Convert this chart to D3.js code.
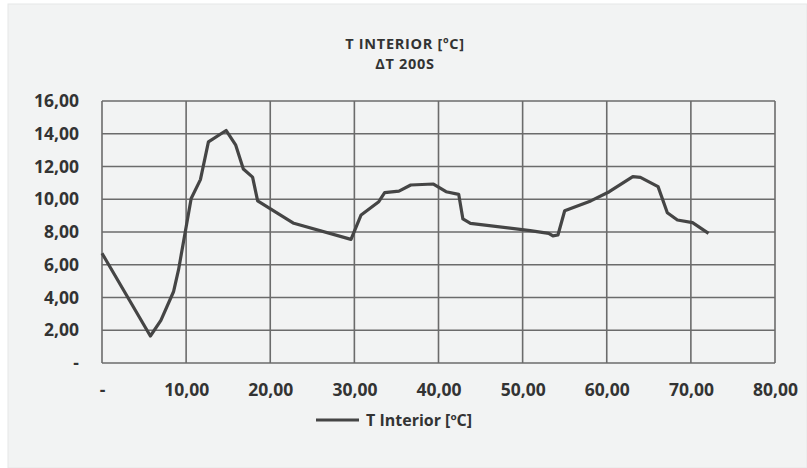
<!DOCTYPE html>
<html><head><meta charset="utf-8">
<script src="https://cdn.jsdelivr.net/npm/d3@7"></script>
<style>html,body{margin:0;padding:0;background:#fff;}svg{display:block;}</style>
</head><body>
<script>
const titleLines = ["T INTERIOR [ºC]", "ΔT 200S"];
const seriesName = "T Interior [ºC]";
const timeValues = [0, 5.75, 7.0, 8.5, 9.1, 10.0, 10.6, 11.7, 12.65, 14.75, 15.9, 16.8, 17.9, 18.5, 22.8, 29.6, 30.8, 32.9, 33.6, 35.3, 36.7, 39.4, 40.9, 42.4, 42.9, 43.8, 50.9, 53.1, 53.6, 54.2, 55.0, 58.1, 60.3, 63.1, 64.0, 66.1, 67.2, 68.4, 70.2, 72.1];
const tempValues = [6.7, 1.65, 2.6, 4.35, 5.7, 8.3, 10.05, 11.2, 13.5, 14.2, 13.3, 11.85, 11.35, 9.9, 8.53, 7.55, 9.04, 9.85, 10.4, 10.5, 10.87, 10.93, 10.46, 10.3, 8.8, 8.53, 8.08, 7.92, 7.76, 7.82, 9.3, 9.9, 10.46, 11.38, 11.34, 10.77, 9.18, 8.73, 8.57, 7.92];
const xTicks = [0, 10, 20, 30, 40, 50, 60, 70, 80];
const yTicks = [0, 2, 4, 6, 8, 10, 12, 14, 16];

const W = 807, H = 468;
const svg = d3.select("body").append("svg").attr("width", W).attr("height", H);
svg.append("rect").attr("x", 8).attr("y", 4).attr("width", W - 8).attr("height", H - 4)
  .attr("fill", "#f2f3f3").attr("stroke", "#e6e7e7").attr("stroke-width", 1);

const fontFam = "'Open Sans', 'DejaVu Sans', sans-serif";
const x = d3.scaleLinear().domain([0, 80]).range([102, 775]);
const y = d3.scaleLinear().domain([0, 16]).range([363, 101]);
const fmt = v => v === 0 ? "-" : d3.format(".2f")(v).replace(".", ",");

// grid
const g = svg.append("g");
g.selectAll(".hg").data(yTicks).join("line")
  .attr("x1", x(0)).attr("x2", x(80)).attr("y1", d => y(d)).attr("y2", d => y(d))
  .attr("stroke", "#6b6b6b").attr("stroke-width", 1.6);
g.selectAll(".vg").data(xTicks).join("line")
  .attr("y1", y(0)).attr("y2", y(16)).attr("x1", d => x(d)).attr("x2", d => x(d))
  .attr("stroke", "#6b6b6b").attr("stroke-width", 1.6);

// axes (labels only)
const xAxis = d3.axisBottom(x).tickValues(xTicks).tickFormat(fmt).tickSize(0).tickPadding(21);
const xg = svg.append("g").attr("transform", `translate(0,${y(0)})`).call(xAxis);
xg.select(".domain").remove();
xg.selectAll("text").attr("font-family", fontFam).attr("font-size", 17.5).attr("font-weight", "bold").attr("fill", "#333");

const yAxis = d3.axisLeft(y).tickValues(yTicks).tickFormat(fmt).tickSize(0).tickPadding(23);
const yg = svg.append("g").attr("transform", `translate(${x(0)},0)`).call(yAxis);
yg.select(".domain").remove();
yg.selectAll("text").attr("font-family", fontFam).attr("font-size", 17.5).attr("font-weight", "bold").attr("fill", "#333");

// line
const data = timeValues.map((t, i) => ({t, v: tempValues[i]}));
svg.append("path").datum(data)
  .attr("d", d3.line().x(d => x(d.t)).y(d => y(d.v)))
  .attr("fill", "none").attr("stroke", "#454545").attr("stroke-width", 3.2)
  .attr("stroke-linejoin", "round");

// title
svg.selectAll(".title").data(titleLines).join("text").attr("class", "title")
  .attr("x", 405).attr("y", (d, i) => 49 + i * 20)
  .attr("text-anchor", "middle").attr("font-family", fontFam)
  .attr("font-size", 14.5).attr("letter-spacing", 0.7)
  .attr("font-weight", "bold").attr("fill", "#333").text(d => d);

// legend
svg.append("line").attr("x1", 316).attr("x2", 359).attr("y1", 420).attr("y2", 420)
  .attr("stroke", "#454545").attr("stroke-width", 3.2);
svg.append("text").attr("x", 366).attr("y", 426).attr("font-family", fontFam)
  .attr("font-size", 16).attr("font-weight", "bold").attr("fill", "#333").text(seriesName);
</script>
</body></html>
